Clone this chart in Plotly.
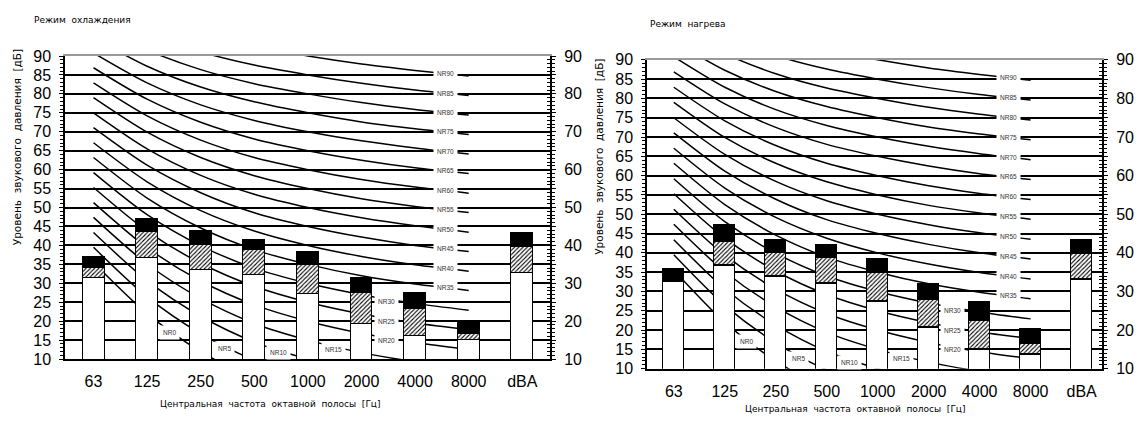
import plotly.graph_objects as go

W, H = 1144, 425

# ---------------- data ----------------
categories = ["63", "125", "250", "500", "1000", "2000", "4000", "8000", "dBA"]

# cooling mode: top of white part, top of hatched part, total level (dB)
cool_white = [31.4, 36.7, 33.4, 32.3, 27.2, 19.2, 16.0, 15.0, 32.8]
cool_hatch = [34.0, 43.6, 40.0, 38.9, 34.8, 27.5, 23.2, 16.7, 39.7]
cool_total = [36.9, 47.0, 43.8, 41.5, 38.2, 31.4, 27.5, 19.9, 43.3]

# heating mode
heat_white = [32.6, 36.6, 33.9, 31.9, 27.3, 20.5, 14.8, 13.7, 33.0]
heat_hatch = [32.6, 42.9, 40.1, 38.8, 34.9, 27.8, 22.5, 16.4, 39.8]
heat_total = [35.5, 46.9, 43.2, 41.8, 38.1, 31.7, 27.1, 20.1, 43.2]

# NR curves (NR0 ... NR90), level per octave band
nr_levels = [0, 5, 10, 15, 20, 25, 30, 35, 40, 45, 50, 55, 60, 65, 70, 75, 80, 85, 90]
nr_63 = [35.5, 39.5, 43.4, 47.4, 51.3, 55.3, 59.2, 63.2, 67.1, 71.1, 75.0, 79.0, 82.9, 86.9, 90.8, 94.8, 98.7, 102.7, 106.6]
nr_125 = [22.0, 26.4, 30.7, 35.1, 39.4, 43.8, 48.1, 52.5, 56.8, 61.2, 65.5, 69.9, 74.2, 78.6, 82.9, 87.3, 91.6, 96.0, 100.3]
nr_250 = [12.0, 16.7, 21.3, 26.0, 30.6, 35.3, 39.9, 44.6, 49.2, 53.9, 58.5, 63.2, 67.8, 72.5, 77.1, 81.8, 86.4, 91.1, 95.7]
nr_500 = [4.8, 9.7, 14.5, 19.4, 24.3, 29.2, 34.0, 38.9, 43.8, 48.6, 53.5, 58.4, 63.2, 68.1, 73.0, 77.9, 82.7, 87.6, 92.5]
nr_1000 = [0.0, 5.0, 10.0, 15.0, 20.0, 25.0, 30.0, 35.0, 40.0, 45.0, 50.0, 55.0, 60.0, 65.0, 70.0, 75.0, 80.0, 85.0, 90.0]
nr_2000 = [-3.5, 1.6, 6.7, 11.7, 16.8, 21.9, 27.0, 32.0, 37.1, 42.2, 47.3, 52.3, 57.4, 62.5, 67.6, 72.6, 77.7, 82.8, 87.9]
nr_4000 = [-6.1, -1.0, 4.2, 9.3, 14.4, 19.5, 24.7, 29.8, 34.9, 40.0, 45.2, 50.3, 55.4, 60.5, 65.7, 70.8, 75.9, 81.0, 86.2]
nr_8000 = [-8.0, -2.9, 2.3, 7.5, 12.6, 17.8, 22.9, 28.1, 33.2, 38.4, 43.5, 48.7, 53.8, 59.0, 64.1, 69.3, 74.4, 79.6, 84.7]
nr_bands = [nr_63, nr_125, nr_250, nr_500, nr_1000, nr_2000, nr_4000, nr_8000]

left_ticks = [10, 15, 20, 25, 30, 35, 40, 45, 50, 55, 60, 65, 70, 75, 80, 85, 90]
right_ticks = [10, 20, 30, 40, 50, 60, 70, 80, 90]

title_cool = "Режим  охлаждения"
title_heat = "Режим  нагрева"
y_title = "Уровень  звукового  давления  [дБ]"
x_title = "Центральная  частота  октавной  полосы  [Гц]"

# ---------------- layout helpers ----------------
NUM_FONT = dict(family="Liberation Sans, Arial", size=16, color="black")
TXT_FONT = dict(family="DejaVu Sans", size=9, color="black")
YT_FONT = dict(family="DejaVu Sans", size=10.5, color="black")
NR_FONT = dict(family="Liberation Sans, Arial", size=6.5, color="#333333")


def fx(p):
    return p / W


def fy(p):
    return 1 - p / H


# label placement along each NR curve (fractional category index)
def nr_label_x(level):
    if level == 0:
        return 1.42
    if level == 5:
        return 2.45
    if level == 10:
        return 3.45
    if level == 15:
        return 4.47
    if level <= 30:
        return 5.47
    return 6.56


panels = [
    dict(title=title_cool, white=cool_white, hatch=cool_hatch, total=cool_total,
         left=65, right=550, top=50, bottom=365.7, xr=[-0.532, 8.517],
         title_xy=(32, 13), ytitle_xy=(17, 145), xtitle_xy=(270, 413)),
    dict(title=title_heat, white=heat_white, hatch=heat_hatch, total=heat_total,
         left=647, right=1102, top=54, bottom=375.7, xr=[-0.526, 8.40],
         title_xy=(648, 17), ytitle_xy=(599, 155), xtitle_xy=(855, 418)),
]

fig = go.Figure()
layout = dict(width=W, height=H, margin=dict(l=0, r=0, t=0, b=0),
              paper_bgcolor="white", plot_bgcolor="white", barmode="stack",
              showlegend=False, bargap=0)
annotations = []

for i, p in enumerate(panels):
    nb = 2 * i + 1
    no = 2 * i + 2
    xb = "x" if nb == 1 else f"x{nb}"
    yb = "y" if nb == 1 else f"y{nb}"
    xo, yo = f"x{no}", f"y{no}"
    xb_key = "xaxis" if nb == 1 else f"xaxis{nb}"
    yb_key = "yaxis" if nb == 1 else f"yaxis{nb}"

    xdom = [fx(p["left"]), fx(p["right"])]
    ydom = [fy(p["bottom"]), fy(p["top"])]

    layout[xb_key] = dict(domain=xdom, range=p["xr"], anchor=yb,
                          tickmode="array", tickvals=list(range(len(categories))),
                          ticktext=categories, ticks="", showgrid=False, zeroline=False,
                          showline=True, linecolor="black", linewidth=2,
                          tickfont=NUM_FONT, ticklabelstandoff=7, fixedrange=True)
    layout[yb_key] = dict(domain=ydom, range=[10, 90], anchor=xb,
                          tickmode="array", tickvals=left_ticks,
                          ticktext=[str(v) for v in left_ticks],
                          ticks="outside", ticklen=4, tickwidth=1, tickcolor="black",
                          minor=dict(tickmode="linear", tick0=10, dtick=1, ticks="outside",
                                     ticklen=3, tickwidth=1, tickcolor="black", showgrid=False),
                          showgrid=True, gridcolor="black", gridwidth=1.8,
                          showline=True, linecolor="black", linewidth=1.5, mirror="allticks",
                          zeroline=False, tickfont=NUM_FONT, ticklabelstandoff=5,
                          fixedrange=True)
    layout[f"xaxis{no}"] = dict(overlaying=xb, anchor=yb, side="top", range=p["xr"],
                                showticklabels=False, ticks="", showgrid=False,
                                zeroline=False, showline=True, linecolor="#9a9a9a",
                                linewidth=2, fixedrange=True)
    layout[f"yaxis{no}"] = dict(overlaying=yb, anchor=xb, side="right", range=[10, 90],
                                tickmode="array", tickvals=right_ticks,
                                ticktext=[str(v) for v in right_ticks],
                                ticks="inside", ticklen=4, tickwidth=1, tickcolor="black",
                                minor=dict(tickmode="linear", tick0=10, dtick=1, ticks="inside",
                                           ticklen=3, tickwidth=1, tickcolor="black",
                                           showgrid=False),
                                showgrid=False, zeroline=False, showline=True,
                                linecolor="black", linewidth=2, tickfont=NUM_FONT,
                                ticklabelstandoff=9, fixedrange=True)

    # NR curves (base subplot, beneath the bars)
    band_x = list(range(len(nr_bands)))
    for k, lvl in enumerate(nr_levels):
        yv = [band[k] for band in nr_bands]
        fig.add_trace(go.Scatter(x=band_x, y=yv, mode="lines", xaxis=xb, yaxis=yb,
                                 line=dict(color="black", width=1.5, shape="spline",
                                           smoothing=0.8),
                                 hoverinfo="skip", showlegend=False))
        lx = nr_label_x(lvl)
        j = int(lx)
        f = lx - j
        ly = yv[j] + f * (yv[j + 1] - yv[j])
        if lvl < 35:
            ly -= 0.8
        annotations.append(dict(x=lx, y=ly, xref=xb, yref=yb, text=f"NR{lvl}",
                                showarrow=False, font=NR_FONT, bgcolor="white",
                                borderpad=3, xanchor="center", yanchor="middle"))

    # bars (overlay subplot, above the curves)
    xs = list(range(len(categories)))
    white_h = p["white"]
    hatch_h = [h - w for h, w in zip(p["hatch"], p["white"])]
    black_h = [t - h for t, h in zip(p["total"], p["hatch"])]
    line = dict(color="black", width=1.5)
    fig.add_trace(go.Bar(x=xs, y=white_h, width=0.41, xaxis=xo, yaxis=yo,
                         marker=dict(color="white", line=line), hoverinfo="skip"))
    fig.add_trace(go.Bar(x=xs, y=hatch_h, width=0.41, xaxis=xo, yaxis=yo,
                         marker=dict(color="white", line=line,
                                     pattern=dict(shape="/", fgcolor="black", bgcolor="white",
                                                  size=3, solidity=0.35, fillmode="replace")),
                         hoverinfo="skip"))
    fig.add_trace(go.Bar(x=xs, y=black_h, width=0.41, xaxis=xo, yaxis=yo,
                         marker=dict(color="black", line=line), hoverinfo="skip"))

    # texts
    tx, ty = p["title_xy"]
    annotations.append(dict(x=fx(tx), y=fy(ty), xref="paper", yref="paper", text=p["title"],
                            showarrow=False, font=TXT_FONT, xanchor="left", yanchor="middle"))
    yx, yy = p["ytitle_xy"]
    annotations.append(dict(x=fx(yx), y=fy(yy), xref="paper", yref="paper", text=y_title,
                            showarrow=False, font=YT_FONT, textangle=-90,
                            xanchor="center", yanchor="middle"))
    xx, xy = p["xtitle_xy"]
    annotations.append(dict(x=fx(xx), y=fy(xy), xref="paper", yref="paper", text=x_title,
                            showarrow=False, font=TXT_FONT, xanchor="center", yanchor="middle"))

layout["annotations"] = annotations
fig.update_layout(**layout)
fig.write_html("out.html")
